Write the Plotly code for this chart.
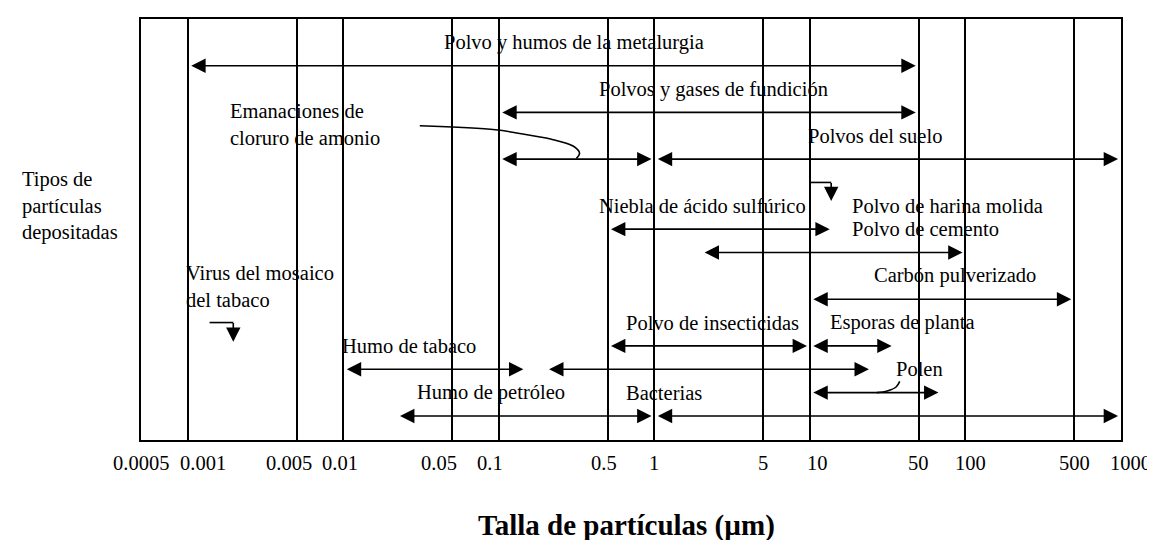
import numpy as np
import plotly.graph_objects as go

# particle size axis (µm)
tick_vals = [0.0005, 0.001, 0.005, 0.01, 0.05, 0.1, 0.5, 1, 5, 10, 50, 100, 500, 1000]
tick_text = ["0.0005", "0.001", "0.005", "0.01", "0.05", "0.1", "0.5", "1",
             "5", "10", "50", "100", "500", "1000"]

# size ranges (µm) drawn as double arrows; row counted from the top of the box
range_lo = [0.001, 0.1, 0.1, 1, 0.5, 2, 10, 0.5, 10, 0.01, 0.2, 10, 0.022, 1]
range_hi = [50, 50, 1, 1000, 14, 100, 500, 10, 35, 0.15, 25, 70, 1, 1000]
range_row = [2, 4, 6, 6, 9, 10, 12, 14, 14, 15, 15, 16, 17, 17]

# labels (left edge in µm, row)
label_text = [
    "Polvo y humos de la metalurgia",
    "Polvos y gases de fundición",
    "Emanaciones de<br>cloruro de amonio",
    "Polvos del suelo",
    "Polvo de harina molida",
    "Niebla de ácido sulfúrico",
    "Polvo de cemento",
    "Carbón pulverizado",
    "Virus del mosaico<br>del tabaco",
    "Polvo de insecticidas",
    "Esporas de planta",
    "Humo de tabaco",
    "Polen",
    "Humo de petróleo",
    "Bacterias",
]
label_x = [0.043, 0.43, 0.0018, 9.45, 18.2, 0.43, 18.2, 25, 0.00094, 0.635, 13.1, 0.0095, 34.8, 0.029, 0.635]
label_row = [1, 3, 4.5, 5, 8, 8, 9, 11, 11.45, 13, 13, 14, 15, 16, 16]

# bent pointers (harina, virus): horizontal run then arrow down
bend_x0 = [10, 0.00138]
bend_x1 = [13.7, 0.00196]
bend_row = [7, 13]
bend_tip = [7.92, 13.95]

# leader curves
eman_curve_x = [0.031, 0.095, 0.13, 0.215, 0.30, 0.33, 0.315]
eman_curve_row = [4.57, 4.74, 4.88, 5.14, 5.44, 5.74, 5.97]
polen_curve_x = [37.8, 35.8, 31.4, 26.9]
polen_curve_row = [15.52, 15.76, 15.93, 16.0]

FONT = "Times New Roman, Liberation Serif, serif"
HEAD = dict(arrowhead=2, arrowwidth=1.6, arrowsize=1.8, arrowcolor="black",
            standoff=2.9, xref="x", yref="y", axref="x", ayref="y",
            text="", showarrow=True, font=dict(size=1), borderpad=0)
# the hand-drawn original sets some tick labels a little off their line (px)
TICK_SHIFT = [0, 15, -8, -3, -13, -9, -4, 0, 0, 8, 0, 5, 0, 10]

fig = go.Figure()

for lo, hi, r in zip(range_lo, range_hi, range_row):
    fig.add_annotation(x=np.log10(hi), y=r, ax=np.log10(lo), ay=r,
                       arrowside="end+start", startarrowhead=2, startarrowsize=1.8,
                       startstandoff=2.9, **HEAD)

for x0, x1, r, tip in zip(bend_x0, bend_x1, bend_row, bend_tip):
    fig.add_trace(go.Scatter(x=[x0, x1], y=[r, r], mode="lines",
                             line=dict(color="black", width=1.6), hoverinfo="skip"))
    fig.add_annotation(x=np.log10(x1), y=tip, ax=np.log10(x1), ay=r, arrowside="end", **HEAD)

for cx, cy in [(eman_curve_x, eman_curve_row), (polen_curve_x, polen_curve_row)]:
    fig.add_trace(go.Scatter(x=cx, y=cy, mode="lines",
                             line=dict(color="black", width=1.6, shape="spline"), hoverinfo="skip"))

for t, lx, r in zip(label_text, label_x, label_row):
    fig.add_annotation(x=np.log10(lx), y=r, text=t, showarrow=False, xanchor="left",
                       yanchor="middle", align="left", font=dict(size=20.5, color="black"))

# tick labels
for v, t, dx in zip(tick_vals, tick_text, TICK_SHIFT):
    fig.add_annotation(x=np.log10(v), xref="x", y=0, yref="paper", text=t, showarrow=False,
                       xanchor="center", yanchor="middle", xshift=dx, yshift=-23,
                       font=dict(size=20.5, color="black"))

fig.add_annotation(x=-0.1234, xref="paper", y=8, yref="y", text="Tipos de<br>partículas<br>depositadas",
                   showarrow=False, xanchor="left", yanchor="middle", align="left",
                   font=dict(size=20.5, color="black"))
fig.add_annotation(x=0.495, xref="paper", y=-0.204, yref="paper", text="<b>Talla de partículas (µm)</b>",
                   showarrow=False, xanchor="center", yanchor="middle",
                   font=dict(size=29, color="black"))

fig.update_layout(
    template="none",
    width=1155,
    height=540,
    autosize=False,
    showlegend=False,
    paper_bgcolor="white",
    plot_bgcolor="white",
    font=dict(family=FONT, color="black", size=20.5),
    margin=dict(l=133, r=42, t=11, b=108, pad=0),
    xaxis=dict(type="log", range=[np.log10(0.0005) - 1e-4, 3 + 1e-4],
               tickmode="array", tickvals=tick_vals, showticklabels=False,
               showgrid=True, gridcolor="black", gridwidth=2, ticks="", automargin=False,
               showline=True, mirror=True, linecolor="black", linewidth=2, zeroline=False),
    yaxis=dict(range=[18.03, 0], showgrid=False, showticklabels=False, ticks="", automargin=False,
               showline=True, mirror=True, linecolor="black", linewidth=2, zeroline=False),
)

fig.write_html("out.html")
